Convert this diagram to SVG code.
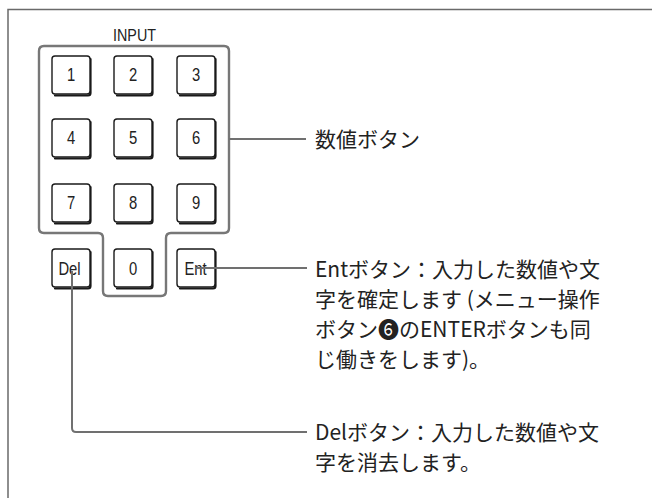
<svg xmlns="http://www.w3.org/2000/svg" width="652" height="498" viewBox="0 0 652 498">
<style>
.frame{fill:none;stroke:#6a6a6a;stroke-width:1.5}
.panel{fill:none;stroke:#777;stroke-width:2.4;stroke-linejoin:round}
.key{fill:#fff;stroke:#1a1a1a;stroke-width:1.4}
.shadow{fill:none;stroke:#1a1a1a;stroke-width:2.2;stroke-linecap:round;stroke-linejoin:round}
.kt{font-family:"Liberation Sans",Arial,sans-serif;font-size:18.5px;fill:#222;text-anchor:middle}
.lbl{font-family:"Noto Sans CJK JP","Noto Sans",sans-serif;font-size:21px;fill:#222}
.con{fill:none;stroke:#707070;stroke-width:2;stroke-linejoin:round}
</style>
<defs>
<g id="keyshape">
<path class="shadow" d="M38.5,3 V37 Q38.5,39.5 36,39.5 H3"/>
<rect class="key" x="0" y="0" width="38" height="38" rx="3"/>
</g>
</defs>
<g id="frame">
<path class="frame" d="M8,498 V9.5 H652"/>
</g>
<g id="input-panel">
<text x="134.5" y="41" font-family="Liberation Sans,Arial,sans-serif" font-size="17" fill="#222" text-anchor="middle" textLength="43" lengthAdjust="spacingAndGlyphs">INPUT</text>
<path class="panel" d="M44,46 H224 Q229,46 229,51 V228 Q229,233 224,233 H171 Q166,233 166,238 V291 Q166,296 161,296 H108 Q103,296 103,291 V238 Q103,233 98,233 H44 Q39,233 39,228 V51 Q39,46 44,46 Z"/>
</g>
<g id="key-1"><use href="#keyshape" x="52" y="56"/><text class="kt" transform="translate(71,81) scale(0.8,1)">1</text></g>
<g id="key-2"><use href="#keyshape" x="114" y="56"/><text class="kt" transform="translate(133,81) scale(0.8,1)">2</text></g>
<g id="key-3"><use href="#keyshape" x="177" y="56"/><text class="kt" transform="translate(196,81) scale(0.8,1)">3</text></g>
<g id="key-4"><use href="#keyshape" x="52" y="119"/><text class="kt" transform="translate(71,144) scale(0.8,1)">4</text></g>
<g id="key-5"><use href="#keyshape" x="114" y="119"/><text class="kt" transform="translate(133,144) scale(0.8,1)">5</text></g>
<g id="key-6"><use href="#keyshape" x="177" y="119"/><text class="kt" transform="translate(196,144) scale(0.8,1)">6</text></g>
<g id="key-7"><use href="#keyshape" x="52" y="184"/><text class="kt" transform="translate(71,209) scale(0.8,1)">7</text></g>
<g id="key-8"><use href="#keyshape" x="114" y="184"/><text class="kt" transform="translate(133,209) scale(0.8,1)">8</text></g>
<g id="key-9"><use href="#keyshape" x="177" y="184"/><text class="kt" transform="translate(196,209) scale(0.8,1)">9</text></g>
<g id="key-del"><use href="#keyshape" x="52" y="249"/><text class="kt" transform="translate(69.5,275) scale(0.8,1)">Del</text></g>
<g id="key-0"><use href="#keyshape" x="114" y="249"/><text class="kt" transform="translate(133,275) scale(0.8,1)">0</text></g>
<g id="key-ent"><use href="#keyshape" x="177" y="249"/><text class="kt" transform="translate(195.5,275) scale(0.8,1)">Ent</text></g>
<g id="connectors">
<path class="con" d="M229,139 H306"/>
<path class="con" d="M195,268 H307"/>
<path class="con" d="M72,271 V428 Q72,432 76,432 H307"/>
</g>
<g id="label-numeric">
<text class="lbl" x="315" y="147">数値ボタン</text>
</g>
<g id="label-ent">
<text class="lbl" x="315" y="277">Entボタン：入力した数値や文</text>
<text class="lbl" x="315" y="307">字を確定します (メニュー操作</text>
<text class="lbl" x="315" y="337">ボタン❻のENTERボタンも同</text>
<text class="lbl" x="315" y="367">じ働きをします)。</text>
</g>
<g id="label-del">
<text class="lbl" x="315" y="440">Delボタン：入力した数値や文</text>
<text class="lbl" x="315" y="470">字を消去します。</text>
</g>
</svg>
